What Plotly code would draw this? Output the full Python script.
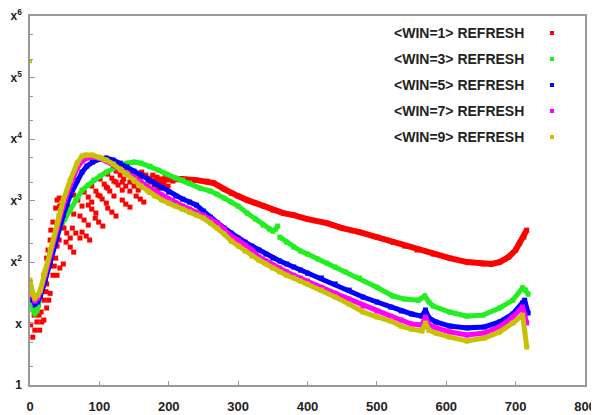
import plotly.graph_objects as go

# ---- data (x = frame, y on log axis, 1 .. x^6) ----

# <WIN=1> REFRESH : scattered streaks at the start, then a smooth band
win1_scatter_x = [1, 4, 7, 6, 10, 14, 12, 16, 20, 16, 20, 24, 20, 24, 29, 24, 29, 33,
                  29, 33, 37, 33, 37, 42, 37, 42, 46, 42, 46, 50, 39, 43, 48, 52, 58, 63,
                  52, 58, 63, 61, 66, 72, 63, 69, 75, 72, 78, 84, 78, 84, 89, 84, 89, 95,
                  89, 95, 101, 98, 104, 110, 101, 107, 112, 110, 115, 121, 112, 118, 124,
                  121, 127, 133, 124, 130, 135, 133, 138, 144, 135, 141, 147, 144, 150, 156,
                  147, 153, 159, 159, 164, 170, 161, 167, 173, 173, 179, 184, 177, 183, 189,
                  187, 193, 199, 195, 200, 206,
                  9, 13, 17, 19, 23, 27, 26, 30, 35, 30, 35, 39, 39, 43, 48, 49, 53, 58,
                  75, 81, 86, 94, 99, 105, 112, 118, 124, 133, 138, 144, 153, 159, 164,
                  173, 179, 184]
win1_scatter_y = [9.5, 6.0, 7.8, 13.7, 10.6, 7.8, 20, 15.4, 11.4, 33, 24, 17.9, 61, 44, 31,
                  116, 86, 61, 228, 163, 116, 447, 319, 228, 755, 560, 415, 1098, 845, 650,
                  61, 80, 93, 211, 175, 145, 982, 784, 603, 357, 296, 246, 1229, 1019, 814,
                  560, 482, 400, 1375, 1140, 946, 845, 727, 626, 1721, 1427, 1184,
                  1229, 1058, 911, 2237, 1855, 1597, 1658, 1427, 1184, 2697, 2322, 1999,
                  2075, 1787, 1482, 3017, 2598, 2237, 1999, 1721, 1427, 3017, 2697, 2322,
                  1999, 1721, 1482, 3017, 2697, 2410, 1926, 1658, 1482, 2906, 2598, 2322,
                  1999, 1787, 1597, 2598, 2410, 2237, 1999, 1855, 1721, 2410, 2237, 2075,
                  17.9, 13.7, 10.6, 42, 33, 24, 157, 116, 86, 331, 246, 182, 1019, 814, 650,
                  357, 296, 246, 307, 265, 228, 519, 447, 385, 755, 650, 560, 1019, 877, 784,
                  1184, 1058, 946, 1375, 1276, 1184]
win1_x = [180, 200, 220, 240, 255, 265, 280, 290, 300, 313, 325, 337, 350, 365, 380, 400,
          428, 450, 475, 500, 523, 540, 558, 581, 605, 630, 653, 665, 677, 690, 700, 706,
          712, 716]
win1_y = [2154, 2237, 2237, 2154, 2075, 1926, 1539, 1325, 1184, 1019, 911, 814, 701, 626,
          581, 500, 431, 357, 307, 255, 211, 182, 157, 135, 116, 100, 93, 93, 100, 121,
          157, 204, 255, 331]

# <WIN=3> REFRESH (None = the break near frame 358)
win3_x = [0, 4, 7, 10, 13, 17, 22, 29, 35, 42, 50, 58, 66, 75, 84, 92, 101, 110, 120, 130,
          140, 150, 160, 173, 185, 197, 210, 220, 230, 245, 260, 270, 280, 290, 300, 313,
          325, 336, 345, 350, 354, 357, 358, 360, 370, 380, 390, 400, 415, 428, 440, 455,
          475, 500, 523, 540, 560, 569, 575, 581, 605, 630, 653, 677, 696, 710, 714, 718]
win3_y = [24, 16.6, 14.8, 16.0, 24, 38, 69, 130, 204, 357, 500, 701, 1058, 1482, 1787, 2154,
          2502, 2906, 3375, 3776, 4074, 4227, 4074, 3638, 3131, 2697, 2322, 2154, 1926, 1597,
          1427, 1276, 1098, 946, 814, 626, 500, 400, 344, 319, 344, 385, None, 255, 211, 175,
          151, 135, 112, 96, 83, 69, 55, 39, 28, 25, 24, 28, 22.4, 19.3, 15.4, 13.2, 13.7,
          17.9, 24, 38, 35, 30]

# <WIN=5> REFRESH
win5_x = [0, 4, 7, 11, 15, 22, 29, 39, 48, 58, 68, 75, 82, 90, 100, 110, 120, 130, 140, 150,
          160, 170, 180, 190, 200, 210, 220, 230, 240, 250, 260, 270, 280, 290, 300, 310,
          320, 330, 340, 350, 360, 370, 380, 390, 400, 420, 440, 460, 480, 500, 520, 535,
          550, 565, 570, 575, 585, 605, 630, 655, 677, 696, 710, 713, 718]
win5_y = [35, 24, 20.7, 22.4, 28, 51, 100, 246, 581, 1229, 2154, 2906, 3638, 4227, 4730,
          4910, 4560, 4074, 3505, 3017, 2598, 2154, 1855, 1597, 1375, 1184, 1058, 946, 845,
          675, 539, 431, 357, 296, 246, 211, 182, 157, 135, 116, 104, 93, 83, 74, 66, 55,
          44, 35, 27, 22.4, 18.5, 16.0, 14.3, 13.2, 16.6, 12.3, 10.6, 9.1, 8.5, 8.8, 10.6,
          14.3, 21.5, 24, 14.8]

# <WIN=7> REFRESH
win7_x = [0, 4, 7, 11, 15, 22, 29, 39, 48, 58, 68, 75, 82, 90, 100, 110, 120, 130, 140, 150,
          160, 170, 180, 190, 200, 210, 220, 230, 240, 250, 260, 270, 280, 290, 300, 310,
          320, 330, 340, 350, 360, 370, 380, 390, 400, 420, 440, 460, 480, 500, 520, 535,
          550, 565, 570, 575, 585, 605, 630, 655, 677, 696, 710, 713, 716]
win7_y = [44, 28, 23.2, 26, 33, 64, 130, 357, 845, 1787, 3375, 4390, 4910, 5096, 4910, 4390,
          3776, 3131, 2799, 2410, 1999, 1658, 1427, 1229, 1058, 911, 814, 727, 650, 581,
          500, 431, 344, 265, 228, 189, 157, 121, 104, 89, 80, 69, 61, 55, 49, 39, 31, 25,
          19.3, 16.0, 13.2, 11.4, 9.8, 9.5, 12.8, 9.5, 8.5, 7.3, 6.5, 7.0, 8.8, 12.8, 18.5,
          13.7, 10.2]

# <WIN=9> REFRESH
win9_x = [0, 4, 7, 11, 15, 22, 29, 39, 48, 58, 68, 75, 80, 90, 100, 110, 120, 130, 140, 150,
          160, 170, 180, 190, 200, 210, 220, 230, 240, 250, 260, 270, 280, 290, 300, 310,
          320, 330, 340, 350, 360, 370, 380, 390, 400, 420, 440, 460, 480, 500, 520, 535,
          550, 565, 570, 575, 585, 605, 630, 655, 677, 696, 710, 713, 716]
win9_y = [51, 30, 26, 29, 35, 74, 157, 431, 1019, 2154, 4074, 5296, 5495, 5495, 5096, 4560,
          3920, 3251, 2697, 2154, 1721, 1427, 1184, 1019, 911, 814, 727, 650, 581, 519, 431,
          357, 285, 219, 182, 151, 125, 108, 93, 80, 69, 61, 55, 49, 44, 35, 27, 20.7, 15.4,
          12.8, 11.0, 9.1, 8.1, 7.6, 10.2, 7.8, 7.0, 6.0, 5.2, 5.8, 7.3, 10.2, 13.7, 7.8, 4.15]
win9_outlier_x = [0]
win9_outlier_y = [185000]

labels = ['<WIN=1> REFRESH', '<WIN=3> REFRESH', '<WIN=5> REFRESH',
          '<WIN=7> REFRESH', '<WIN=9> REFRESH']
colors = ['#ff0000', '#22ee22', '#0000ff', '#ff00ff', '#c8c000']

x_ticks = [0, 100, 200, 300, 400, 500, 600, 700, 800]
y_ticks = [1, 10, 100, 1000, 10000, 100000, 1000000]
y_ticktext = ['1', 'x', 'x<sup>2</sup>', 'x<sup>3</sup>', 'x<sup>4</sup>',
              'x<sup>5</sup>', 'x<sup>6</sup>']
y_minor = [2, 5, 20, 50, 200, 500, 2000, 5000, 20000, 50000, 200000, 500000]

fig = go.Figure()

# red: early streaks as points, then the band
fig.add_trace(go.Scatter(x=win1_scatter_x, y=win1_scatter_y, mode='markers',
                         marker=dict(symbol='square', size=5, color=colors[0])))
fig.add_trace(go.Scatter(x=win1_x, y=win1_y, mode='lines+markers',
                         line=dict(color=colors[0], width=6),
                         marker=dict(symbol='square', size=5, color=colors[0])))

for xs, ys, c in [(win3_x, win3_y, colors[1]), (win5_x, win5_y, colors[2]),
                  (win7_x, win7_y, colors[3]), (win9_x, win9_y, colors[4])]:
    fig.add_trace(go.Scatter(x=xs, y=ys, mode='lines+markers',
                             line=dict(color=c, width=5),
                             marker=dict(symbol='square', size=5, color=c)))

fig.add_trace(go.Scatter(x=win9_outlier_x, y=win9_outlier_y, mode='markers',
                         marker=dict(symbol='square', size=4, color=colors[4])))

# the page body keeps an 8px default margin, so the figure is 8px smaller
page_off = 8
W, H = 599 - page_off, 415 - page_off
# plot area in page pixels (as in the reference)
plot_l, plot_r, plot_t, plot_b = 30, 585, 16, 385

# gnuplot-style key: text right aligned, small marker after it
font = dict(family='Liberation Sans, Arial', size=13, color='#222', weight='bold')
key_font = dict(font, size=14)
row_px = [33, 59, 85, 111, 137]
for lab, c, ry in zip(labels, colors, row_px):
    yp = (plot_b - ry) / (plot_b - plot_t)
    fig.add_annotation(x=(526 - plot_l) / (plot_r - plot_l), y=yp, xref='paper', yref='paper',
                       xanchor='right', yanchor='middle', showarrow=False,
                       text=lab.replace('<', '&lt;').replace('>', '&gt;'), font=key_font)
    fig.add_shape(type='rect', xref='paper', yref='paper',
                  x0=(550 - plot_l) / (plot_r - plot_l), x1=(554 - plot_l) / (plot_r - plot_l),
                  y0=yp - 2 / (plot_b - plot_t), y1=yp + 2 / (plot_b - plot_t),
                  fillcolor=c, line=dict(width=0))

axis_common = dict(showline=True, linecolor='#999', linewidth=1.5, mirror=True,
                   showgrid=False, zeroline=False, ticks='inside', tickcolor='#999',
                   tickwidth=1, automargin=False, ticklabeloverflow='allow')

fig.update_xaxes(range=[0, 800], tickmode='array', tickvals=x_ticks, ticklen=4,
                 ticklabelstandoff=9, tickfont=font, **axis_common)
fig.update_yaxes(type='log', range=[0, 6.003], tickmode='array', tickvals=y_ticks,
                 ticktext=y_ticktext, ticklen=5, ticklabelstandoff=4,
                 tickfont=dict(font, size=12),
                 minor=dict(tickmode='array', tickvals=y_minor, ticks='inside', ticklen=3,
                            tickcolor='#999'),
                 **axis_common)

fig.update_layout(width=W, height=H, showlegend=False,
                  margin=dict(l=plot_l - page_off, r=599 - plot_r,
                              t=plot_t - page_off, b=415 - plot_b),
                  paper_bgcolor='white', plot_bgcolor='white')

fig.write_html("out.html")
